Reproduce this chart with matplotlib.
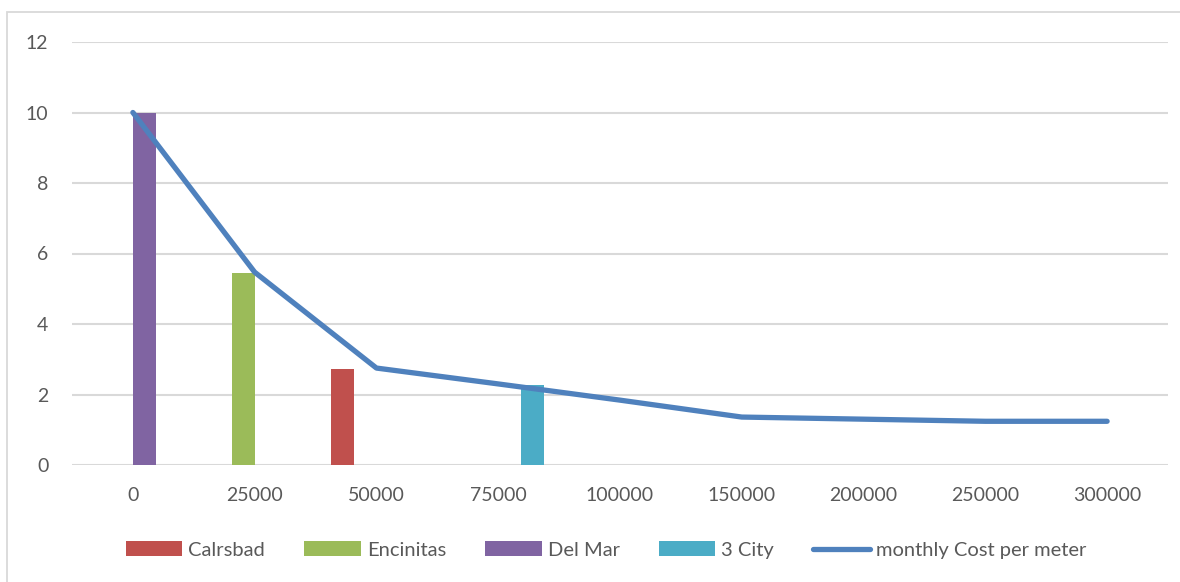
import matplotlib.pyplot as plt
import numpy as np
import matplotlib as mpl
from matplotlib.patches import Rectangle

plt.rcParams["font.family"] = ["Lato", "DejaVu Sans"]

# -----------------------------
# Data
# -----------------------------
categories = ["0", "25000", "50000", "75000", "100000",
              "150000", "200000", "250000", "300000"]

nan = np.nan
calrsbad = [nan, nan, 2.72, nan, nan, nan, nan, nan, nan]
encinitas = [nan, 5.45, nan, nan, nan, nan, nan, nan, nan]
del_mar = [10.0, nan, nan, nan, nan, nan, nan, nan, nan]
three_city = [nan, nan, nan, 2.27, nan, nan, nan, nan, nan]

monthly_cost = [10.0, 5.47, 2.75, 2.3, 1.84, 1.36, 1.30, 1.24, 1.24]

y_ticks = [0, 2, 4, 6, 8, 10, 12]

# -----------------------------
# Figure setup
# -----------------------------
W, H = 1180, 582
fig = plt.figure(figsize=(W / 100, H / 100), dpi=100, facecolor="white")
ax = fig.add_axes([72 / W, (H - 465) / H, (1168 - 72) / W, (465 - 42) / H])

# chart-area border (partly cut off like the reference)
fig.patches.append(Rectangle((7 / W, -0.2), 1.2, (H - 12) / H + 0.2,
                             transform=fig.transFigure, fill=False,
                             edgecolor="#d9d9d9", linewidth=1.3))

x = np.arange(len(categories))
w = 0.188

series = [
    ("Calrsbad", calrsbad, "#c0504d", -1.5),
    ("Encinitas", encinitas, "#9bbb59", -0.5),
    ("Del Mar", del_mar, "#8064a2", 0.5),
    ("3 City", three_city, "#4bacc6", 1.5),
]
handles = []
for name, vals, col, off in series:
    b = ax.bar(x + off * w, vals, width=w, color=col, label=name, zorder=2)
    handles.append(b)

ln, = ax.plot(x, monthly_cost, color="#4f81bd", linewidth=3.8,
              solid_capstyle="round", solid_joinstyle="round",
              label="monthly Cost per meter", zorder=3)
handles.append(ln)

# -----------------------------
# Axes, ticks, labels
# -----------------------------
ax.set_xlim(-0.5, len(categories) - 0.5)
ax.set_ylim(0, 12)
ax.set_yticks(y_ticks)
ax.set_xticks(x)
ax.set_xticklabels(categories)

ax.grid(True, axis="y", color="#d9d9d9", linewidth=1.5)
ax.set_axisbelow(True)
for side in ax.spines:
    ax.spines[side].set_visible(False)

ax.tick_params(axis="y", length=0, pad=17, labelsize=14, colors="#595959")
ax.tick_params(axis="x", length=0, pad=16, labelsize=14, colors="#595959")

leg = ax.legend(handles=handles, loc="center",
                bbox_to_anchor=(606 / W, (H - 550) / H),
                bbox_transform=fig.transFigure, ncol=5, frameon=False,
                fontsize=14.5, handlelength=2.8, handleheight=0.75,
                handletextpad=0.3, columnspacing=1.95, labelcolor="#595959")

fig.savefig("out.png", dpi=100, facecolor="white")
